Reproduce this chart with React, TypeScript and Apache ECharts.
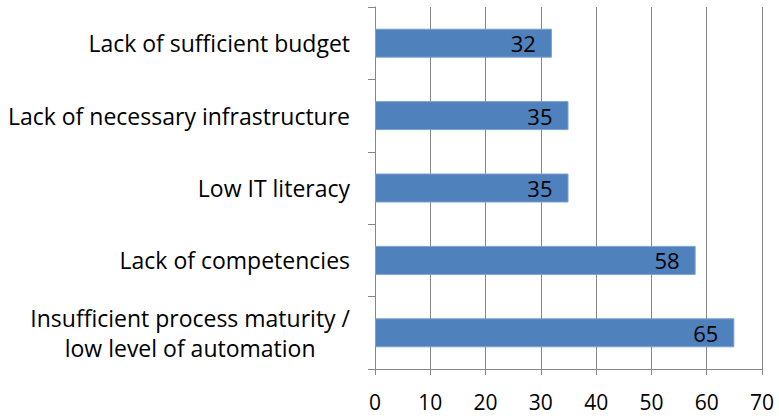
import React, { useEffect, useRef } from "react";
import * as echarts from "echarts";

const categories = [
  "Insufficient process maturity /\nlow level of automation",
  "Lack of competencies",
  "Low IT literacy",
  "Lack of necessary infrastructure",
  "Lack of sufficient budget",
];
const values = [65, 58, 35, 35, 32];
const xMin = 0;
const xMax = 70;
const xInterval = 10;

const FONT = "'Open Sans', Lato, sans-serif";
const FS = 21;
const CAT_FS = 23;
const GRAY = "#868686";

export default function App() {
  const ref = useRef<HTMLDivElement>(null);
  useEffect(() => {
    if (!ref.current) return;
    const chart = echarts.init(ref.current, undefined, { renderer: "svg" });
    chart.setOption({
      animation: false,
      grid: { left: 375, right: 17, top: 7, bottom: 50, containLabel: false },
      xAxis: {
        type: "value",
        min: xMin,
        max: xMax,
        interval: xInterval,
        axisLine: { show: true, lineStyle: { color: GRAY, width: 1 } },
        axisTick: { show: true, length: 6, lineStyle: { color: GRAY } },
        splitLine: { show: true, lineStyle: { color: GRAY, width: 1 } },
        axisLabel: { color: "#000", fontSize: FS, fontFamily: FONT, margin: 22 },
      },
      yAxis: {
        type: "category",
        data: categories,
        axisLine: { show: true, lineStyle: { color: GRAY, width: 1 } },
        axisTick: { show: true, length: 7, lineStyle: { color: GRAY } },
        axisLabel: {
          color: "#000",
          fontSize: CAT_FS,
          fontFamily: FONT,
          margin: 25,
          lineHeight: 30,
          align: "right",
          formatter: (v: string) =>
            v
              .split("\n")
              .map((l) => `{c|${l}}`)
              .join("\n"),
          rich: {
            c: {
              align: "center",
              color: "#000",
              fontSize: CAT_FS,
              fontFamily: FONT,
              lineHeight: 30,
            },
          },
        },
      },
      series: [
        {
          type: "bar",
          data: values,
          barWidth: 29,
          itemStyle: { color: "#4F81BD", borderColor: "#7DA1CF", borderWidth: 1 },
          label: {
            show: true,
            position: "insideRight",
            distance: 16,
            color: "#000",
            fontSize: 22,
            fontFamily: FONT,
          },
        },
      ],
    });
    return () => chart.dispose();
  }, []);
  return (
    <div
      ref={ref}
      style={{ position: "fixed", left: 0, top: 0, width: 779, height: 419, background: "#fff" }}
    />
  );
}
